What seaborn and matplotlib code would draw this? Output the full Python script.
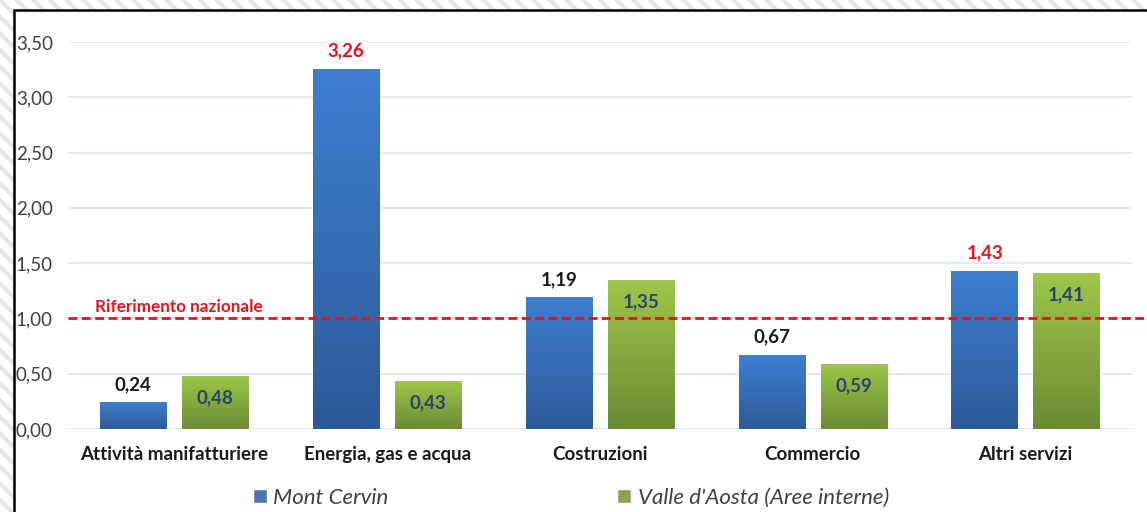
import numpy as np
import pandas as pd
import matplotlib
matplotlib.use("Agg")
import matplotlib.pyplot as plt
from matplotlib.colors import LinearSegmentedColormap
from matplotlib.patches import Rectangle
from matplotlib.lines import Line2D
from matplotlib.transforms import blended_transform_factory
import seaborn as sns

# ---------------- data ----------------
categories = ['Attività manifatturiere', 'Energia, gas e acqua', 'Costruzioni',
              'Commercio', 'Altri servizi']
series = ['Mont Cervin', "Valle d'Aosta (Aree interne)"]
mont_cervin = [0.24, 3.26, 1.19, 0.67, 1.43]
valle_aosta = [0.48, 0.43, 1.35, 0.59, 1.41]
riferimento = 1.00
yticks = [0.0, 0.5, 1.0, 1.5, 2.0, 2.5, 3.0, 3.5]

df = pd.DataFrame({
    'Settore': categories * 2,
    'Serie': [series[0]] * len(categories) + [series[1]] * len(categories),
    'Valore': mont_cervin + valle_aosta,
})

def fmt(v):
    return f"{v:.2f}".replace('.', ',')

sns.set_theme(style="white")
plt.rcParams['font.family'] = ['Lato', 'DejaVu Sans']
plt.rcParams['hatch.linewidth'] = 3.0
plt.rcParams['hatch.color'] = '#e6e6e6'

fig = plt.figure(figsize=(11.47, 5.12), dpi=100)
fig.patch.set_facecolor('white')

# hatched background + white frame
fig.patches.append(Rectangle((0, 0), 1, 1, transform=fig.transFigure,
                             facecolor='white', edgecolor='#e6e6e6', lw=0,
                             hatch='\\\\', zorder=-10))
fl, ft = 14 / 1147, 1 - 10 / 512
fig.patches.append(Rectangle((fl, -0.1), 1.2, ft + 0.1, transform=fig.transFigure,
                             facecolor='white', edgecolor='none', zorder=-9))
fig.lines.append(Line2D([fl, fl], [0, ft], transform=fig.transFigure, color='black', lw=1.8))
fig.lines.append(Line2D([fl, 1], [ft, ft], transform=fig.transFigure, color='black', lw=1.8))

ax = fig.add_axes([68 / 1147, 83 / 512, 1064 / 1147, 387 / 512])
ax.set_facecolor('none')

palette = {series[0]: '#3a76c4', series[1]: '#8cb443'}
sns.barplot(data=df, x='Settore', y='Valore', hue='Serie', palette=palette,
            width=0.77, gap=0.19, ax=ax, legend=True, zorder=3)

# gradient fill on each bar
grads = [LinearSegmentedColormap.from_list('b', ['#2d5a98', '#3e7fd0']),
         LinearSegmentedColormap.from_list('g', ['#6b8a33', '#9ec74b'])]
grad = np.linspace(0, 1, 256).reshape(-1, 1)
for cont, cmap in zip(ax.containers, grads):
    for bar in cont:
        x, w, h = bar.get_x(), bar.get_width(), bar.get_height()
        im = ax.imshow(grad, extent=[x, x + w, 0, h], origin='lower',
                       aspect='auto', cmap=cmap, zorder=3.5)
        im.set_clip_path(bar)

ax.set_xlim(-0.5, len(categories) - 0.5)
ax.set_ylim(0, 3.5)

# grid
ax.set_yticks(yticks)
ax.yaxis.grid(True, color='#d9e2ec', lw=1.1, zorder=0)
ax.xaxis.grid(False)
for s in ax.spines.values():
    s.set_visible(False)
ax.set_yticklabels([fmt(v) for v in yticks], fontsize=13.5, color='#404040')
ax.set_xticks(range(len(categories)))
ax.set_xticklabels(categories, fontsize=13.5, fontweight='bold', color='#1a1a1a')
ax.tick_params(axis='y', length=0, pad=11)
ax.tick_params(axis='x', length=0, pad=12)
ax.set_xlabel('')
ax.set_ylabel('')

# reference line
ax.axhline(riferimento, xmin=0, xmax=1.015, color='#e0151b', lw=2, ls=(0, (3.2, 1.6)),
           zorder=5, clip_on=False)
trans = blended_transform_factory(ax.transAxes, ax.transData)
ax.annotate('Riferimento nazionale', xy=(0.025, riferimento), xycoords=trans,
            xytext=(0, 2.5), textcoords='offset points', ha='left', va='bottom',
            color='#e0151b', fontsize=12.3, fontweight='bold', zorder=6)

# value labels
blue_lbl_colors = ['#1a1a1a', '#e0151b', '#1a1a1a', '#1a1a1a', '#e0151b']
for bar, v, c in zip(ax.containers[0], mont_cervin, blue_lbl_colors):
    ax.annotate(fmt(v), xy=(bar.get_x() + bar.get_width() / 2, v),
                xytext=(0, 13), textcoords='offset points', ha='center', va='center',
                fontsize=13.5, fontweight='bold', color=c, zorder=6)
for bar, v in zip(ax.containers[1], valle_aosta):
    ax.annotate(fmt(v), xy=(bar.get_x() + bar.get_width() / 2, v),
                xytext=(0, -15.5), textcoords='offset points', ha='center', va='center',
                fontsize=13.5, fontweight='bold', color='#27466a', zorder=6)

# legend
handles, labels = ax.get_legend_handles_labels()
ax.legend(handles, labels, loc='center', bbox_to_anchor=(571 / 1147, 14 / 512),
          bbox_transform=fig.transFigure, ncol=2, frameon=False,
          handlelength=0.62, handleheight=0.62, handletextpad=0.3, columnspacing=10.3,
          prop={'style': 'italic', 'size': 16}, labelcolor='#404040')

fig.savefig('out.png', dpi=100, facecolor=fig.get_facecolor())
